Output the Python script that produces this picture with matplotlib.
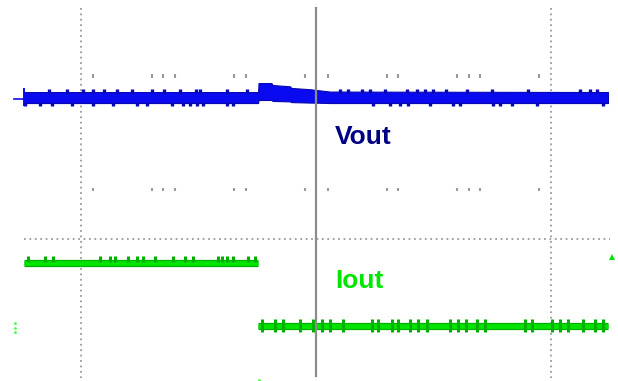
import matplotlib.pyplot as plt

# Scope screen in divisions: x is time (trigger at 0), y is screen position (0 = reference line)
x_min, x_max = -1.3475, 1.2878
y_min, y_max = -1.2137, 2.0427

# Vout envelope (upper / lower edge of the noise band)
vout_t = [-1.245, -0.247, -0.245, -0.190, -0.185, -0.111, -0.105, -0.026, 0.060, 1.245]
vout_hi = [1.256, 1.256, 1.333, 1.333, 1.316, 1.305, 1.291, 1.280, 1.260, 1.256]
vout_lo = [1.162, 1.162, 1.188, 1.188, 1.180, 1.176, 1.170, 1.166, 1.162, 1.162]

# Vout noise spikes
vout_up = [-1.139, -1.062, -0.994, -0.951, -0.904, -0.849, -0.785, -0.699, -0.648,
           -0.580, -0.512, -0.495, -0.380, -0.294, 0.102, 0.136, 0.196, 0.230,
           0.294, 0.388, 0.431, 0.465, 0.499, 0.554, 0.644, 0.750, 0.904, 1.126,
           1.168, 1.198]
vout_down = [-1.241, -1.177, -1.126, -1.041, -0.951, -0.866, -0.763, -0.721, -0.614,
             -0.567, -0.537, -0.507, -0.482, -0.380, -0.354, 0.243, 0.316, 0.358,
             0.392, 0.486, 0.584, 0.614, 0.755, 0.785, 0.836, 0.942, 1.224]

# Iout: load step (level before and after)
iout_start = [-1.245, -0.247]
iout_end = [-0.247, 1.245]
iout_level = [-0.201, -0.744]

iout_spikes_hi = [-1.228, -1.156, -1.122, -0.921, -0.878, -0.857, -0.802, -0.763,
                  -0.738, -0.687, -0.610, -0.559, -0.525, -0.418, -0.401, -0.380,
                  -0.354, -0.290, -0.260]
iout_spikes_lo = [-0.230, -0.175, -0.141, -0.068, -0.013, 0.026, 0.060, 0.115, 0.239,
                  0.264, 0.324, 0.350, 0.401, 0.435, 0.473, 0.571, 0.606, 0.640,
                  0.687, 0.721, 0.891, 0.921, 1.006, 1.041, 1.075, 1.139, 1.190, 1.224]

# graticule tick marks along the two rows
tick_x = [-0.951, -0.699, -0.652, -0.601, -0.350, -0.299, -0.047,
          0.051, 0.303, 0.350, 0.601, 0.652, 0.699, 0.951]
tick_rows = [1.393, 0.419]

BLUE = '#0a0af0'
BLUE_EDGE = '#0808b0'
GREEN = '#00e400'
GREEN_EDGE = '#00b000'
GRID = '#9a9a9a'

fig = plt.figure(figsize=(6.18, 3.81), dpi=100)
ax = fig.add_axes([0, 0, 1, 1])
ax.set_xlim(x_min, x_max)
ax.set_ylim(y_min, y_max)
ax.axis('off')

# graticule
dotted = (0, (1, 2))
for gx in [-1, 1]:
    ax.plot([gx, gx], [1.974, -1.188], color=GRID, lw=1.3, ls=dotted, zorder=1)
ax.plot([-1.245, 1.254], [0, 0], color=GRID, lw=1.3, ls=dotted, zorder=1)
ax.plot([0, 0], [1.974, -1.171], color='#8c8c8c', lw=1.6, zorder=4)
for row in tick_rows:
    ax.vlines(tick_x, row - 0.013, row + 0.013, color=GRID, lw=1.5, zorder=1)

# Vout trace
ax.fill_between(vout_t, vout_lo, vout_hi, facecolor=BLUE, edgecolor=BLUE_EDGE,
                lw=0.8, zorder=3)
ax.vlines(vout_up, 1.25, 1.282, color=BLUE_EDGE, lw=2.4, zorder=3)
ax.vlines(vout_down, 1.136, 1.17, color=BLUE_EDGE, lw=2.4, zorder=3)
ax.plot([-1.288, -1.245], [1.197, 1.197], color=BLUE, lw=1.2, zorder=3)
ax.plot([-1.245, -1.245], [1.145, 1.28], color=BLUE, lw=1.4, zorder=3)

# Iout trace
ax.hlines(iout_level, iout_start, iout_end, color=GREEN_EDGE, lw=5.2, zorder=3)
ax.hlines(iout_level, iout_start, iout_end, color=GREEN, lw=3.4, zorder=3)
ax.vlines(iout_spikes_hi, -0.2, -0.145, color=GREEN_EDGE, lw=2.2, zorder=3)
ax.vlines(iout_spikes_lo, -0.795, -0.684, color=GREEN_EDGE, lw=2.2, zorder=3)
ax.plot([-1.284] * 3, [-0.718, -0.757, -0.795], ls='none', marker='o',
        ms=2.0, color='#44ff44', mew=0)
ax.plot([1.262], [-0.154], ls='none', marker='^', ms=4, color=GREEN, mew=0)
ax.plot([-0.243], [-1.205], ls='none', marker='o', ms=2.0, color='#44ff44', mew=0)

# channel labels
ax.text(0.081, 0.872, 'Vout', color='#000085', fontsize=19, fontweight='bold',
        family='Liberation Sans', ha='left', va='center')
ax.text(0.081, -0.359, 'Iout', color='#00e600', fontsize=19, fontweight='bold',
        family='Liberation Sans', ha='left', va='center')

fig.savefig('out.png', dpi=100)
